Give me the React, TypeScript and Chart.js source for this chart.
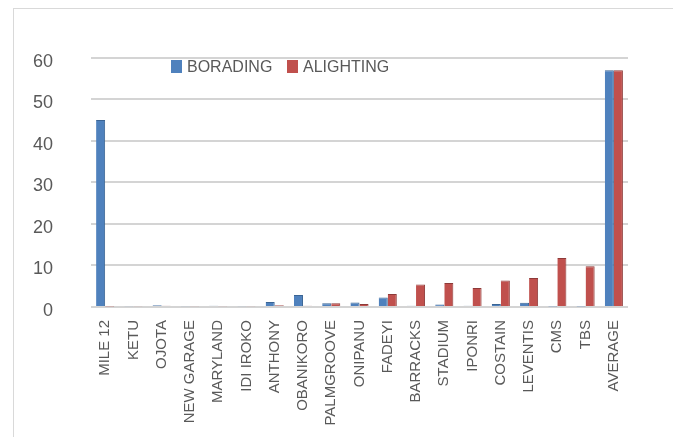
import React, { useEffect, useRef } from "react";
import { Chart, registerables } from "chart.js";

Chart.register(...registerables);

const categories = [
  "MILE 12", "KETU", "OJOTA", "NEW GARAGE", "MARYLAND", "IDI IROKO", "ANTHONY",
  "OBANIKORO", "PALMGROOVE", "ONIPANU", "FADEYI", "BARRACKS", "STADIUM",
  "IPONRI", "COSTAIN", "LEVENTIS", "CMS", "TBS", "AVERAGE",
];
const boarding = [45, 0.2, 0.4, 0.2, 0.3, 0.2, 1.2, 2.9, 0.9, 1.1, 2.3, 0.3, 0.6, 0.3, 0.7, 1.0, 0.1, 0.1, 57];
const alighting = [0.1, 0.2, 0.3, 0.2, 0.2, 0.2, 0.4, 0.3, 0.9, 0.7, 3.1, 5.4, 5.8, 4.6, 6.4, 7.0, 11.8, 9.8, 57];
const yTicks = [0, 10, 20, 30, 40, 50, 60];

const BLUE = "#4F81BD";
const RED = "#C0504D";
const TEXT = "#595959";
const FONT = "'Liberation Sans', Arial, sans-serif";

export default function App() {
  const ref = useRef<HTMLCanvasElement | null>(null);
  useEffect(() => {
    if (!ref.current) return;
    const chart = new Chart(ref.current, {
      type: "bar",
      data: {
        labels: categories,
        datasets: [
          {
            label: "BORADING",
            data: boarding,
            backgroundColor: BLUE,
            borderColor: "#3A6494",
            borderWidth: { right: 1, top: 1, left: 0, bottom: 0 },
            borderSkipped: "bottom",
          },
          {
            label: "ALIGHTING",
            data: alighting,
            backgroundColor: RED,
            borderColor: "#8E3A38",
            borderWidth: { right: 1, top: 1, left: 0, bottom: 0 },
            borderSkipped: "bottom",
          },
        ],
      },
      options: {
        responsive: false,
        animation: false,
        layout: { padding: { top: 39, right: 48, left: 0, bottom: 0 } },
        plugins: { legend: { display: false }, tooltip: { enabled: false } },
        datasets: { bar: { categoryPercentage: 0.64, barPercentage: 1 } },
        scales: {
          x: {
            grid: { display: false, drawTicks: false },
            border: { display: false },
            ticks: {
              autoSkip: false,
              minRotation: 90,
              maxRotation: 90,
              padding: 13,
              color: TEXT,
              font: { family: FONT, size: 15 },
            },
            afterFit: (s: any) => { s.height = 130; },
          },
          y: {
            min: 0,
            max: 60,
            afterBuildTicks: (s: any) => { s.ticks = yTicks.map((v) => ({ value: v })); },
            grid: { color: "#d4d4d4", lineWidth: 2, drawTicks: false },
            border: { display: false },
            ticks: {
              padding: 38,
              labelOffset: 4,
              color: TEXT,
              font: { family: FONT, size: 18 },
            },
            afterFit: (s: any) => { s.width = 77; },
          },
        },
      },
    });
    return () => chart.destroy();
  }, []);

  const legendText: React.CSSProperties = {
    position: "absolute",
    fontFamily: FONT,
    fontSize: 16,
    lineHeight: "16px",
    color: TEXT,
    whiteSpace: "nowrap",
    top: 50,
  };
  return (
    <div
      style={{
        position: "relative",
        marginLeft: 5,
        width: 664,
        height: 429,
        border: "1px solid #d9d9d9",
        borderBottom: "none",
        boxSizing: "border-box",
        background: "#fff",
      }}
    >
      <canvas ref={ref} width={662} height={428} style={{ position: "absolute", left: 0, top: 0 }} />
      <div style={{ position: "absolute", left: 157, top: 51, width: 11, height: 13, background: BLUE }} />
      <div style={{ ...legendText, left: 173 }}>BORADING</div>
      <div style={{ position: "absolute", left: 273, top: 51, width: 11, height: 13, background: RED }} />
      <div style={{ ...legendText, left: 289 }}>ALIGHTING</div>
    </div>
  );
}
